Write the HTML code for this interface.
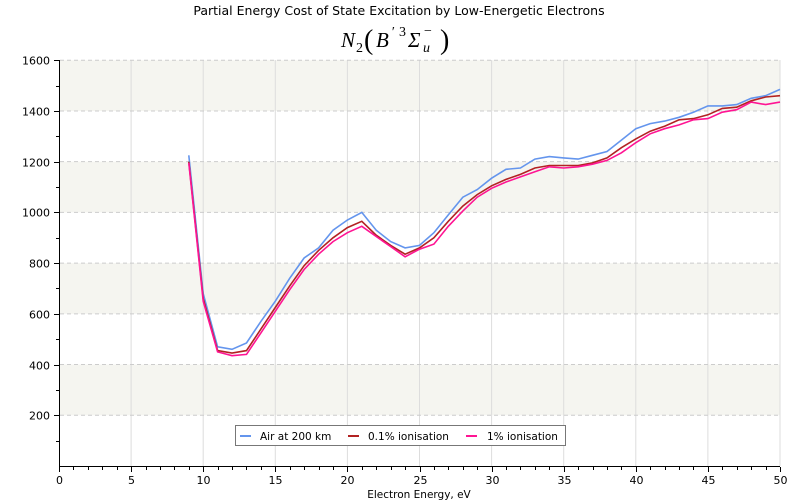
<!DOCTYPE html>
<html><head><meta charset="utf-8"><style>
body{margin:0;background:#fff;width:800px;height:500px;overflow:hidden;font-family:"DejaVu Sans","Liberation Sans",sans-serif}
</style></head><body>
<svg id="s" width="800" height="500" xmlns="http://www.w3.org/2000/svg" font-family="DejaVu Sans, Liberation Sans, sans-serif">
<text x="399" y="15" font-size="12.5" text-anchor="middle" fill="#000">Partial Energy Cost of State Excitation by Low-Energetic Electrons</text>
<g font-family="Liberation Serif, serif" font-style="italic" fill="#000">
<text x="341" y="47" font-size="21">N</text><text x="356" y="52" font-size="14" font-style="normal">2</text>
<text x="364" y="49" font-size="28" font-style="normal">(</text>
<text x="376" y="47" font-size="21">B</text><text x="391" y="36" font-size="14">′</text><text x="399" y="36" font-size="14" font-style="normal">3</text>
<text x="408" y="47" font-size="21">Σ</text><text x="423" y="52" font-size="14">u</text><text x="424" y="35" font-size="14" font-style="normal">−</text>
<text x="440" y="49" font-size="28" font-style="normal">)</text>
</g>
<g id="bands"></g>
<g id="grid"></g>
<g id="series"></g>
<g id="axes"></g>
<rect x="235.5" y="425.5" width="330" height="20" fill="#fff" stroke="#777"/>
<line x1="240" y1="436" x2="251" y2="436" stroke="#6495ed" stroke-width="2"/>
<text x="260" y="440" font-size="10.5">Air at 200 km</text>
<line x1="348" y1="436" x2="359" y2="436" stroke="#b22222" stroke-width="2"/>
<text x="368" y="440" font-size="10.5">0.1% ionisation</text>
<line x1="466" y1="436" x2="477" y2="436" stroke="#ff1493" stroke-width="2"/>
<text x="487" y="440" font-size="10.5">1% ionisation</text>
<text x="419" y="498" font-size="10.5" text-anchor="middle">Electron Energy, eV</text>
</svg>
<script>
var NS="http://www.w3.org/2000/svg";
function X(v){return 59+v*14.42}
function Y(v){return 466-v*0.2536}
function el(p,t,a,txt){var e=document.createElementNS(NS,t);for(var k in a)e.setAttribute(k,a[k]);if(txt!==undefined)e.textContent=txt;document.getElementById(p).appendChild(e);return e}
for(var v=0;v<1600;v+=200){if((v/200)%2==1)el("bands","rect",{x:60,y:Y(v+200),width:720,height:Y(v)-Y(v+200),fill:"#f5f5f0"})}
for(var x=5;x<=50;x+=5)el("grid","line",{x1:X(x),y1:60,x2:X(x),y2:466,stroke:"#ddd","stroke-width":1});
for(var v=200;v<=1600;v+=200)el("grid","line",{x1:60,y1:Y(v),x2:780,y2:Y(v),stroke:"#ccc","stroke-dasharray":"4,3"});
el("axes","line",{x1:59.5,y1:60,x2:59.5,y2:466.5,stroke:"#000"});
el("axes","line",{x1:59,y1:466.5,x2:780,y2:466.5,stroke:"#000"});
for(var v=100;v<=1600;v+=100){var yy=Math.round(Y(v))+.5;el("axes","line",{x1:v%200?56:54,y1:yy,x2:59,y2:yy,stroke:"#000"});if(v%200==0)el("axes","text",{x:50,y:yy+4,"font-size":11,"text-anchor":"end"},v)}
for(var x=0;x<=50;x++){var xx=Math.round(X(x))+.5;el("axes","line",{x1:xx,y1:467,x2:xx,y2:x%5?470:472,stroke:"#000"});if(x%5==0)el("axes","text",{x:xx,y:484,"font-size":11,"text-anchor":"middle"},x)}
var xs=[9,10,11,12,13,14,15,16,17,18,19,20,21,22,23,24,25,26,27,28,29,30,31,32,33,34,35,36,37,38,39,40,41,42,43,44,45,46,47,48,49,50];
var A=[1225,680,470,460,485,570,650,740,820,860,930,970,1000,930,885,860,870,920,990,1060,1090,1135,1170,1175,1210,1220,1215,1210,1225,1240,1285,1330,1350,1360,1375,1395,1420,1420,1425,1450,1460,1485];
var B=[1200,660,455,445,455,540,625,710,790,850,900,940,965,910,870,835,860,900,965,1025,1070,1105,1130,1150,1175,1185,1185,1185,1195,1215,1255,1290,1320,1340,1365,1370,1385,1410,1415,1440,1455,1460];
var C=[1195,650,450,435,440,525,610,695,775,835,885,920,945,905,865,825,855,875,945,1005,1060,1095,1120,1140,1160,1180,1175,1180,1190,1205,1235,1275,1310,1330,1345,1365,1370,1395,1405,1435,1425,1435];
function pl(d,c){var p=xs.map(function(x,i){return X(x).toFixed(1)+","+Y(d[i]).toFixed(1)}).join(" ");el("series","polyline",{points:p,fill:"none",stroke:c,"stroke-width":1.6})}
pl(A,"#6495ed");pl(B,"#b22222");pl(C,"#ff1493");
</script>
</body></html>
